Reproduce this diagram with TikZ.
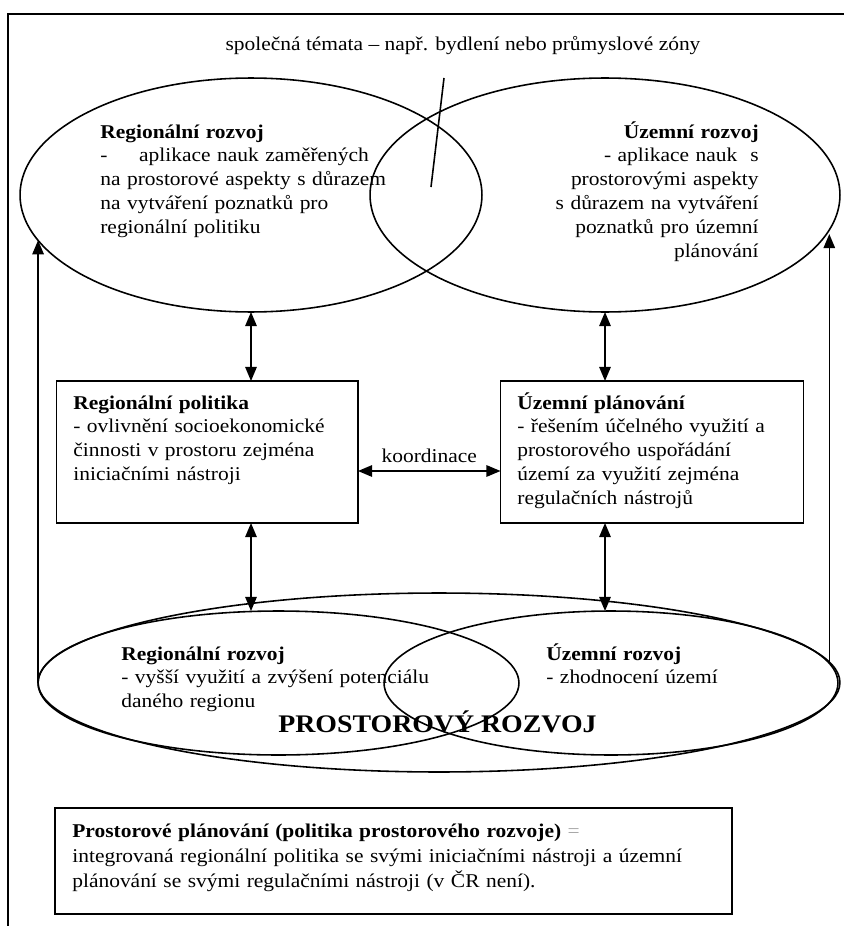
\documentclass[tikz,border=0pt]{standalone}
\usepackage{fontspec}
\setmainfont{Liberation Serif}[FakeStretch=1.1]
\usetikzlibrary{shapes.geometric,arrows.meta}
\colorlet{paleGrey}{black!35}

\begin{document}
\fontsize{11.1pt}{13.6pt}\selectfont
\begin{tikzpicture}[x=0.02cm, y=-0.02cm,
    ovalShape/.style={draw, ellipse, line width=0.9pt, inner sep=0pt, outer sep=0pt},
    boxShape/.style={draw, rectangle, line width=0.9pt, inner sep=0pt, outer sep=0pt},
    bodyText/.style={inner sep=0pt, font=\fontsize{11.1pt}{13.6pt}\selectfont},
    dblArrow/.style={{Triangle[length=8pt,width=6.5pt]}-{Triangle[length=8pt,width=6.5pt]}, line width=0.9pt},
    oneArrow/.style={-{Triangle[length=8pt,width=6.5pt]}, line width=0.9pt}]
    \useasboundingbox (0,0) rectangle (844,926);
    % frame
    \draw[line width=0.9pt] (8,926) -- (8,14) -- (844,14);
    % upper ellipses
    \node[ovalShape, minimum width=9.24cm, minimum height=4.68cm] (lreg) at (251,195) {};
    \node[ovalShape, minimum width=9.4cm, minimum height=4.68cm] (ureg) at (605,195) {};
    \node[bodyText, anchor=base] (theme) at (463,51) {společná témata – např. bydlení nebo průmyslové zóny};
    \coordinate (themeTop) at (444,78);
    \coordinate (themeEnd) at (431,187);
    \draw[line width=0.9pt] (themeTop) -- (themeEnd);
    \node[bodyText, anchor=base west, text width=8cm, align=left] (lregText) at (100,138)
        {\textbf{Regionální rozvoj}\\
         -\hspace{18pt}aplikace nauk zaměřených\\
         na prostorové aspekty s důrazem\\
         na vytváření poznatků pro\\
         regionální politiku};
    \node[bodyText, anchor=base east, text width=8cm, align=right] (uregText) at (759,138)
        {\textbf{Územní rozvoj}\\
         - aplikace nauk~~s\\
         prostorovými aspekty\\
         s důrazem na vytváření\\
         poznatků pro územní\\
         plánování};
    % boxes
    \node[boxShape, minimum width=6.03cm, minimum height=2.84cm] (lpol) at (207.25,452) {};
    \node[boxShape, minimum width=6.06cm, minimum height=2.84cm] (upl) at (652,452) {};
    \node[bodyText, anchor=base west, text width=6cm, align=left] (lpolText) at (73,409)
        {\textbf{Regionální politika}\\
         - ovlivnění socioekonomické\\
         činnosti v prostoru zejména\\
         iniciačními nástroji};
    \node[bodyText, anchor=base west, text width=6cm, align=left] (uplText) at (517,409)
        {\textbf{Územní plánování}\\
         - řešením účelného využití a\\
         prostorového uspořádání\\
         území za využití zejména\\
         regulačních nástrojů};
    % lower ellipses
    \node[ovalShape, minimum width=16.04cm, minimum height=3.58cm] (bigel) at (439,682.5) {};
    \node[ovalShape, minimum width=9.62cm, minimum height=2.88cm] (bregl) at (278.5,683) {};
    \node[ovalShape, minimum width=9.08cm, minimum height=2.88cm] (bregr) at (611,683) {};
    \node[bodyText, anchor=base west, text width=8cm, align=left] (breglText) at (121,660)
        {\textbf{Regionální rozvoj}\\
         - vyšší využití a zvýšení potenciálu\\
         daného regionu};
    \node[bodyText, anchor=base west, text width=6cm, align=left] (bregrText) at (546,660)
        {\textbf{Územní rozvoj}\\
         - zhodnocení území};
    \node[inner sep=0pt, anchor=base west, font=\fontsize{14.4pt}{16pt}\selectfont\bfseries] (prost) at (278,732) {PROSTOROVÝ ROZVOJ};
    % arrows
    \draw[dblArrow] (lreg.south) -- (lreg.south |- lpol.north);
    \draw[dblArrow] (ureg.south) -- (ureg.south |- upl.north);
    \draw[dblArrow] (lreg.south |- lpol.south) -- (lreg.south |- bregl.north);
    \draw[dblArrow] (ureg.south |- upl.south) -- (ureg.south |- bregr.north);
    \draw[dblArrow] ([yshift=-0.38cm]lpol.east) -- node[bodyText, above=4pt] {koordinace} ([yshift=-0.38cm]upl.west);
    \draw[oneArrow] (bigel.west) -- (bigel.west |- lreg.192.4);
    \draw[oneArrow] (bigel.3.2) -- (bigel.3.2 |- ureg.350.6);
    % summary box
    \node[boxShape, minimum width=13.54cm, minimum height=2.12cm] (summary) at (393.5,861) {};
    \node[bodyText, anchor=base west, text width=13cm, align=left] (summaryText) at (72,837)
        {\textbf{Prostorové plánování (politika prostorového rozvoje)} {\color{paleGrey}=}\\[0.9pt]
         integrovaná regionální politika se svými iniciačními nástroji a územní\\[0.9pt]
         plánování se svými regulačními nástroji (v ČR není).};
\end{tikzpicture}
\end{document}
